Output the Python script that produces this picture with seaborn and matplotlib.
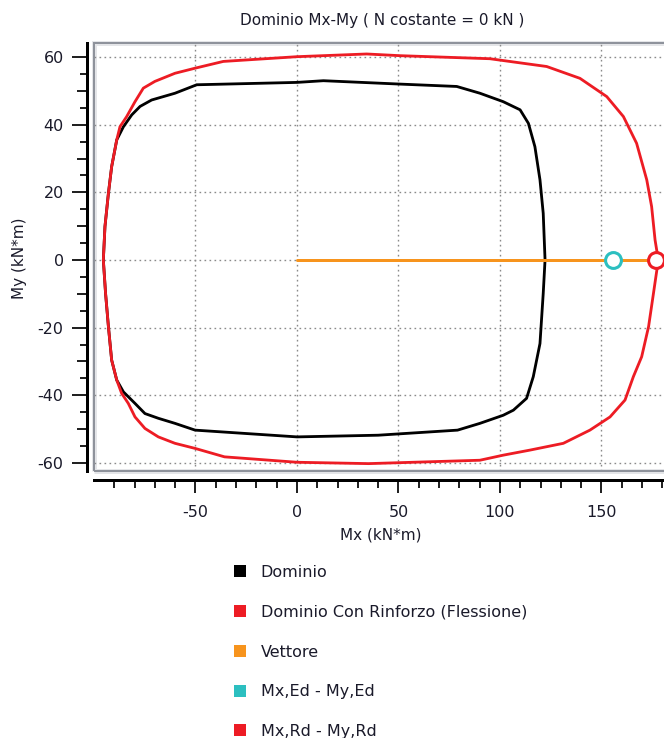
import numpy as np
import pandas as pd
import seaborn as sns
import matplotlib
matplotlib.use('Agg')
import matplotlib.pyplot as plt
from matplotlib.lines import Line2D
from matplotlib.patches import Rectangle
from matplotlib.ticker import FixedLocator, FuncFormatter

# Dominio (senza rinforzo), percorso chiuso Mx-My [kN*m]
dom_mx = [122.2, 121.3, 119.7, 117.2, 114.0, 109.9, 101.6, 90.1, 78.7, 50.7, 13.0, 0.0,
          -49.4, -60.1, -71.6, -77.3, -81.4, -85.5, -88.8, -91.3, -92.9, -94.6, -95.4,
          -94.3, -92.9, -91.3, -88.8, -85.5, -79.8, -74.9, -68.3, -60.1, -50.2, 0.0,
          40.0, 79.1, 90.1, 101.6, 106.6, 113.1, 116.4, 119.7, 121.3, 122.2]
dom_my = [0.0, 13.8, 23.7, 33.5, 40.4, 44.4, 46.8, 49.3, 51.3, 52.0, 53.0, 52.5,
          51.8, 49.3, 47.3, 45.4, 42.9, 39.4, 35.5, 27.6, 19.7, 9.9, 0.0,
          -9.9, -19.7, -29.6, -35.5, -39.0, -42.4, -45.4, -46.8, -48.3, -50.3, -52.3,
          -51.8, -50.3, -48.3, -45.9, -44.4, -40.9, -34.5, -24.7, -9.9, 0.0]

# Dominio con rinforzo (flessione)
rin_mx = [178.0, 176.4, 174.7, 172.3, 167.3, 160.8, 152.6, 139.4, 123.0, 95.0, 50.7, 34.3,
          0.0, -36.3, -50.2, -60.1, -70.0, -75.7, -79.8, -83.9, -87.2, -88.8, -91.3,
          -92.9, -94.6, -95.4, -94.3, -92.9, -91.3, -88.8, -86.4, -83.1, -79.8, -74.9,
          -68.3, -60.1, -50.2, -35.7, 0.0, 35.3, 90.1, 101.6, 114.8, 131.2, 144.3,
          154.2, 161.6, 165.7, 169.8, 173.2, 175.6, 178.0]
rin_my = [0.0, 5.9, 15.8, 23.7, 34.5, 42.4, 48.3, 53.7, 57.2, 59.5, 60.4, 60.9,
          60.1, 58.7, 56.7, 55.2, 52.8, 50.8, 46.8, 42.4, 39.4, 35.5, 27.6,
          19.7, 9.9, 0.0, -9.9, -19.7, -29.6, -35.5, -39.4, -42.4, -46.4, -49.8,
          -52.3, -54.2, -55.7, -58.2, -59.8, -60.2, -59.2, -57.7, -56.2, -54.2, -50.3,
          -46.4, -41.4, -34.5, -28.6, -19.7, -9.9, 0.0]

vet_mx = [0.0, 177.0]
vet_my = [0.0, 0.0]
ed_mx, ed_my = [155.5], [0.0]
rd_mx, rd_my = [177.0], [0.0]

labels = ['Dominio', 'Dominio Con Rinforzo (Flessione)', 'Vettore',
          'Mx,Ed - My,Ed', 'Mx,Rd - My,Rd']
colors = ['#000000', '#ed1c24', '#f7941d', '#2cbfc0', '#ed1c24']

sns.set_theme(style='white')
plt.rcParams['font.family'] = ['DejaVu Sans']
plt.rcParams['axes.unicode_minus'] = False

PX = 0.72  # 1 px in points at dpi 100
W, H = 664, 738
fig = plt.figure(figsize=(W / 100, H / 100), dpi=100)
ax = fig.add_axes([94 / W, (H - 471.4) / H, 576.5 / W, 427.9 / H])

sns.lineplot(x=dom_mx, y=dom_my, sort=False, estimator=None, color=colors[0],
             lw=2 * PX * 1.4, ax=ax, zorder=3)
sns.lineplot(x=rin_mx, y=rin_my, sort=False, estimator=None, color=colors[1],
             lw=2 * PX * 1.4, ax=ax, zorder=4)
sns.lineplot(x=vet_mx, y=vet_my, sort=False, estimator=None, color=colors[2],
             lw=3 * PX, ax=ax, zorder=5)
ax.scatter(ed_mx, ed_my, s=130, facecolor='white', edgecolor=colors[3],
           linewidth=2.2, zorder=6, clip_on=False)
ax.scatter(rd_mx, rd_my, s=130, facecolor='white', edgecolor=colors[4],
           linewidth=2.2, zorder=6, clip_on=False)

ax.set_xlim(-100, 184)
ax.set_ylim(-62.5, 64)

# griglia tratteggiata
for gx in [-50, 0, 50, 100, 150]:
    ax.axvline(gx, color='#8a8a8a', lw=1.0, ls=(0, (1.2, 2.4)), zorder=1)
for gy in [-60, -40, -20, 0, 20, 40, 60]:
    ax.axhline(gy, color='#8a8a8a', lw=1.0, ls=(0, (1.2, 2.4)), zorder=1)

# cornice grigia dell'area del grafico
ax.add_patch(Rectangle((0, 0), 1, 1, transform=ax.transAxes, fill=False,
                       edgecolor='#e4e5e8', lw=5 * PX, clip_on=False, zorder=0))
ax.add_patch(Rectangle((0, 0), 1, 1, transform=ax.transAxes, fill=False,
                       edgecolor='#8e929b', lw=2 * PX, clip_on=False, zorder=7))

for s in ['top', 'right']:
    ax.spines[s].set_visible(False)
ax.spines['left'].set_position(('outward', 7 * PX))
ax.spines['bottom'].set_position(('outward', 9 * PX))
for s in ['left', 'bottom']:
    ax.spines[s].set_color('black')
    ax.spines[s].set_linewidth(3 * PX)

ax.set_xticks([-50, 0, 50, 100, 150])
ax.xaxis.set_minor_locator(FixedLocator(np.arange(-90, 184, 10)))
ax.set_yticks(np.arange(-60, 61, 10))
ax.yaxis.set_minor_locator(FixedLocator(np.arange(-60, 64, 5)))
ax.yaxis.set_major_formatter(FuncFormatter(lambda v, p: f'{v:.0f}' if v % 20 == 0 else ''))

ax.tick_params(axis='x', which='major', direction='out', length=13 * PX, width=2 * PX,
               color='#222222', labelsize=11.5, labelcolor='#1a1a2a', pad=8)
ax.tick_params(axis='x', which='minor', direction='out', length=8 * PX, width=2 * PX,
               color='#222222')
ax.tick_params(axis='y', which='major', direction='out', length=15 * PX, width=2 * PX,
               color='#222222', labelsize=11.5, labelcolor='#1a1a2a', pad=6)
ax.tick_params(axis='y', which='minor', direction='out', length=7 * PX, width=2 * PX,
               color='#222222')
ax.tick_params(bottom=True, left=True, which='both')

for tick, loc in zip(ax.yaxis.get_major_ticks(), ax.get_yticks()):
    if loc % 20 != 0:
        tick.tick1line.set_markersize(10 * PX)

fig.text(382 / W, 1 - 21 / H, 'Dominio Mx-My ( N costante = 0 kN )', ha='center',
         va='center', fontsize=11, color='#1a1a2a')
fig.text(381 / W, 1 - 535 / H, 'Mx (kN*m)', ha='center', va='center',
         fontsize=11, color='#1a1a2a')
fig.text(20 / W, 1 - 258 / H, 'My (kN*m)', ha='center', va='center', rotation=90,
         fontsize=11, color='#1a1a2a')

handles = [Line2D([], [], marker='s', ls='none', markersize=12 * PX, color=c,
                  markeredgewidth=0) for c in colors]
fig.legend(handles, labels, loc='upper left', bbox_to_anchor=(232 / W, 1 - 565 / H),
           frameon=False, fontsize=11.5, handlelength=1.0, handletextpad=0.8,
           labelspacing=1.55, borderpad=0, borderaxespad=0, labelcolor='#1a1a2a')

fig.savefig('out.png', dpi=100)
